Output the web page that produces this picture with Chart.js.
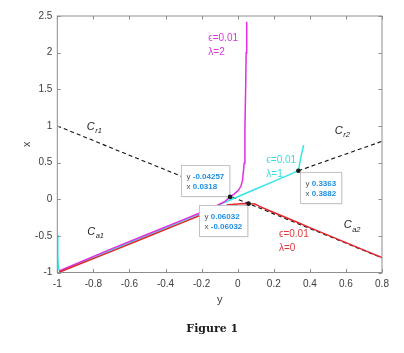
<!DOCTYPE html>
<html><head><meta charset="utf-8">
<script src="https://cdn.jsdelivr.net/npm/chart.js@4/dist/chart.umd.min.js"></script>
<style>html,body{margin:0;padding:0;background:#fff;}canvas{display:block;}</style>
</head><body>
<canvas id="c" width="404" height="353"></canvas>
<script>
// Horizontal axis is labelled "y", vertical axis is labelled "x".
const hTickValues = [-1, -0.8, -0.6, -0.4, -0.2, 0, 0.2, 0.4, 0.6, 0.8];
const hTickLabels = ['-1', '-0.8', '-0.6', '-0.4', '-0.2', '0', '0.2', '0.4', '0.6', '0.8'];
const vTickValues = [-1, -0.5, 0, 0.5, 1, 1.5, 2, 2.5];
const vTickLabels = ['-1', '-0.5', '0', '0.5', '1', '1.5', '2', '2.5'];

// lambda = 0 (red)
const red_h = [-0.99, -0.7, -0.5, -0.3, -0.2, -0.1, -0.05, 0.0, 0.03, 0.06032, 0.095, 0.122, 0.16, 0.2, 0.26, 0.32, 0.4, 0.5, 0.6, 0.7, 0.8];
const red_v = [-0.997, -0.712, -0.512, -0.312, -0.212, -0.112, -0.076, -0.064, -0.06, -0.06032, -0.066, -0.098, -0.14, -0.182, -0.243, -0.305, -0.388, -0.49, -0.592, -0.695, -0.797];
// lambda = 2 (magenta)
const mag_h = [-0.99, -0.7, -0.5, -0.3, -0.2, -0.108, -0.07, -0.04257, -0.02, 0.005, 0.018, 0.027, 0.036, 0.04, 0.044, 0.047, 0.05];
const mag_v = [-0.98, -0.678, -0.478, -0.278, -0.177, -0.079, -0.03, 0.0318, 0.07, 0.125, 0.18, 0.26, 0.49, 0.94, 1.5, 2.0, 2.42];
// lambda = 1 (cyan)
const cyan_h = [-1.0, -0.997, -0.993, -0.985, -0.7, -0.4, -0.2, -0.126, 0.0, 0.1, 0.2, 0.3, 0.3363, 0.341, 0.348, 0.356, 0.366];
const cyan_v = [-0.48, -0.8, -0.95, -0.982, -0.693, -0.393, -0.19, -0.1, 0.033, 0.139, 0.244, 0.35, 0.3882, 0.45, 0.54, 0.64, 0.74];
// critical manifold (dashed)
const crA_h = [-1, 0.8];
const crA_v = [1, -0.8];
const crB_h = [0.3363, 0.8];
const crB_v = [0.3882, 0.79];
// data tips
const tip_h = [-0.04257, 0.06032, 0.3363];
const tip_v = [0.0318, -0.06032, 0.3882];
const tip_hText = ['-0.04257', '0.06032', '0.3363'];
const tip_vText = ['0.0318', '-0.06032', '0.3882'];

const pts = (h, v) => h.map((a, i) => ({x: a, y: v[i]}));

const MAG = '#e22ee2', CYA = '#36e6e6', RED = '#e3262b';
const SANS = '"Liberation Sans", Arial, Helvetica, sans-serif';

const curveLabels = [
  {h: -0.163, v: 2.199, text: '\u03f5=0.01', color: '#d836d8'},
  {h: -0.163, v: 2.008, text: '\u03bb=2', color: '#d836d8'},
  {h: 0.159, v: 0.525, text: '\u03f5=0.01', color: '#35dede'},
  {h: 0.159, v: 0.344, text: '\u03bb=1', color: '#35dede'},
  {h: 0.229, v: -0.479, text: '\u03f5=0.01', color: '#e0383c'},
  {h: 0.229, v: -0.670, text: '\u03bb=0', color: '#e0383c'}
];
const manifoldLabels = [
  {h: -0.837, v: 0.989, sub: 'r1'},
  {h: 0.538, v: 0.934, sub: 'r2'},
  {h: -0.834, v: -0.443, sub: 'a1'},
  {h: 0.588, v: -0.352, sub: 'a2'}
];
const tipAnchors = ['br', 'tr', 'tl'];

const annot = {
  id: 'annot',
  afterDatasetsDraw(chart) {
    const ctx = chart.ctx, a = chart.chartArea;
    const xs = chart.scales.x, ys = chart.scales.y;
    ctx.save();
    // frame
    ctx.strokeStyle = '#8e8e8e';
    ctx.lineWidth = 1;
    ctx.strokeRect(a.left, a.top, a.right - a.left, a.bottom - a.top);
    // inward ticks
    ctx.beginPath();
    hTickValues.forEach(v => {
      const p = Math.round(xs.getPixelForValue(v)) + 0.5;
      ctx.moveTo(p, a.bottom); ctx.lineTo(p, a.bottom - 3.5);
      ctx.moveTo(p, a.top); ctx.lineTo(p, a.top + 3.5);
    });
    vTickValues.forEach(v => {
      const p = Math.round(ys.getPixelForValue(v)) + 0.5;
      ctx.moveTo(a.left, p); ctx.lineTo(a.left + 3.5, p);
      ctx.moveTo(a.right, p); ctx.lineTo(a.right - 3.5, p);
    });
    ctx.stroke();

    // curve labels
    ctx.textBaseline = 'middle';
    ctx.textAlign = 'left';
    ctx.font = '10px ' + SANS;
    curveLabels.forEach(l => {
      ctx.fillStyle = l.color;
      ctx.fillText(l.text, xs.getPixelForValue(l.h), ys.getPixelForValue(l.v));
    });
    // manifold labels
    ctx.fillStyle = '#222';
    manifoldLabels.forEach(l => {
      const px = xs.getPixelForValue(l.h), py = ys.getPixelForValue(l.v);
      ctx.font = 'italic 11px ' + SANS;
      ctx.fillText('C', px, py);
      const w = ctx.measureText('C').width;
      ctx.font = 'italic 7.5px ' + SANS;
      ctx.fillText(l.sub, px + w + 0.5, py + 4.5);
    });

    // data tips
    tip_h.forEach((hv, i) => {
      const px = xs.getPixelForValue(hv), py = ys.getPixelForValue(tip_v[i]);
      const lines = [['y ', tip_hText[i]], ['x ', tip_vText[i]]];
      let w = 0;
      lines.forEach(([lab, val]) => {
        ctx.font = '8px ' + SANS; const w1 = ctx.measureText(lab).width;
        ctx.font = 'bold 8px ' + SANS; const w2 = ctx.measureText(val).width;
        w = Math.max(w, w1 + w2);
      });
      w += 10.5;
      const h = 31;
      let left, top;
      const an = tipAnchors[i];
      if (an === 'br') { left = px - 1 - w; top = py - 0.5 - h; }
      else if (an === 'tr') { left = px - 1 - w; top = py + 1; }
      else { left = px + 1.7; top = py + 1.3; }
      left = Math.round(left) + 0.5; top = Math.round(top) + 0.5;
      ctx.fillStyle = 'rgba(0,0,0,0.08)';
      ctx.fillRect(left + 1, top + 1, w, h);
      ctx.fillStyle = '#ffffff';
      ctx.fillRect(left, top, w, h);
      ctx.strokeStyle = '#c4c4c4';
      ctx.strokeRect(left, top, w, h);
      lines.forEach(([lab, val], k) => {
        const ty = top + 10.8 + k * 10.6;
        ctx.font = '8px ' + SANS;
        ctx.fillStyle = '#555';
        ctx.fillText(lab, left + 5, ty);
        const w1 = ctx.measureText(lab).width;
        ctx.font = 'bold 8px ' + SANS;
        ctx.fillStyle = '#1f8fe2';
        ctx.fillText(val, left + 5 + w1, ty);
      });
    });
    // dots on top
    ctx.fillStyle = '#1a1a1a';
    tip_h.forEach((hv, i) => {
      ctx.beginPath();
      ctx.arc(xs.getPixelForValue(hv), ys.getPixelForValue(tip_v[i]), 2.3, 0, Math.PI * 2);
      ctx.fill();
    });
    ctx.restore();
  },
  afterDraw(chart) {
    const ctx = chart.ctx;
    ctx.save();
    ctx.font = 'bold 11px "DejaVu Serif", "Liberation Serif", serif';
    ctx.fillStyle = '#1c1c1c';
    ctx.textAlign = 'center';
    ctx.textBaseline = 'middle';
    ctx.fillText('Figure 1', 212.3, 329);
    ctx.restore();
  }
};

const lineDs = (h, v, color, extra) => Object.assign({
  data: pts(h, v), showLine: true, borderColor: color, backgroundColor: color,
  borderWidth: 1.5, pointRadius: 0, tension: 0, fill: false
}, extra || {});

new Chart(document.getElementById('c'), {
  type: 'scatter',
  data: {
    datasets: [
      lineDs(red_h, red_v, RED),
      lineDs(mag_h, mag_v, MAG),
      lineDs(cyan_h, cyan_v, CYA),
      lineDs(crA_h, crA_v, '#111', {borderWidth: 1.1, borderDash: [4, 3]}),
      lineDs(crB_h, crB_v, '#111', {borderWidth: 1.1, borderDash: [4, 3]})
    ]
  },
  options: {
    responsive: false,
    animation: false,
    devicePixelRatio: 1,
    layout: {padding: {top: 16, right: 22, left: 0, bottom: 0}},
    plugins: {legend: {display: false}, tooltip: {enabled: false}},
    scales: {
      x: {
        type: 'linear', min: -1, max: 0.8,
        afterBuildTicks: s => { s.ticks = hTickValues.map(v => ({value: v})); },
        afterFit: s => { s.height = 80.5; },
        grid: {display: false, drawTicks: false}, border: {display: false},
        ticks: {autoSkip: false, maxRotation: 0, padding: 6, color: '#3c3c3c',
          font: {family: SANS, size: 10},
          callback: (v, i) => hTickLabels[i]},
        title: {display: true, text: 'y', color: '#3c3c3c', font: {family: SANS, size: 11},
          padding: {top: 0, bottom: 46.4}}
      },
      y: {
        type: 'linear', min: -1, max: 2.5,
        afterBuildTicks: s => { s.ticks = vTickValues.map(v => ({value: v})); },
        afterFit: s => { s.width = 57.3; },
        grid: {display: false, drawTicks: false}, border: {display: false},
        ticks: {autoSkip: false, padding: 5, color: '#3c3c3c',
          font: {family: SANS, size: 10},
          callback: (v, i) => vTickLabels[i]},
        title: {display: true, text: 'x', color: '#3c3c3c', font: {family: SANS, size: 11},
          padding: {top: 20.1, bottom: 0}}
      }
    }
  },
  plugins: [annot]
});
</script>
</body></html>
